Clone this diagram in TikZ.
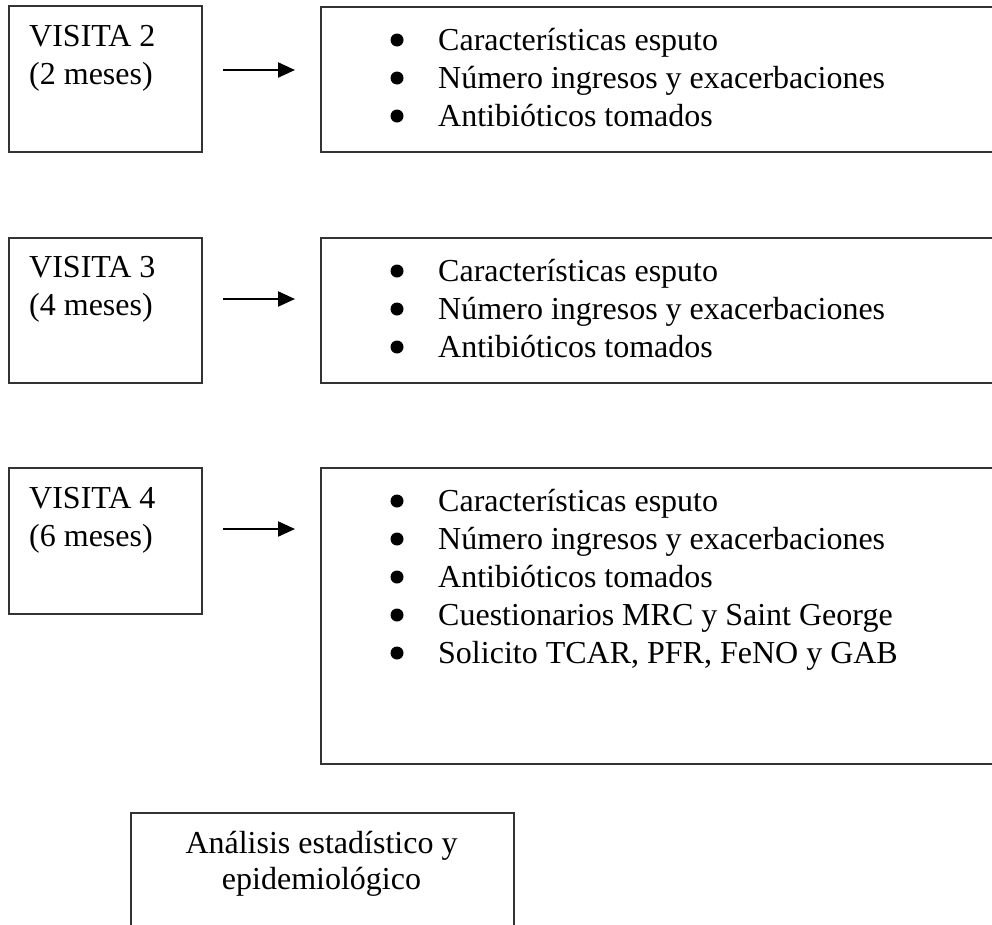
\documentclass[tikz,border=0pt]{standalone}
\usepackage{fontspec}
\setmainfont{Liberation Serif}
\usetikzlibrary{arrows.meta}
\begin{document}
\begin{tikzpicture}[x=1pt,y=-1pt,
  box/.style={draw=black!80, line width=1.5pt, anchor=north west, inner sep=0pt},
  lbl/.style={anchor=base west, inner sep=0pt, font=\fontsize{32}{38}\selectfont},
  ctr/.style={anchor=base, inner sep=0pt, font=\fontsize{32}{36}\selectfont},
  bullet/.style={fill=black},
  arr/.style={-{Triangle[length=17pt,width=15pt]}, line width=2.2pt}]
\clip (0,0) rectangle (992,924);
\fill[white] (0,0) rectangle (992,924);
% visit 2
\node[box, minimum width=193pt, minimum height=146pt] (v2) at (8,5) {};
\node[lbl] (v2t) at (29,46) {\begin{tabular}[t]{@{}l@{}}VISITA 2\\(2 meses)\end{tabular}};
\node[box, minimum width=690pt, minimum height=145pt] (r2) at (320,6) {};
\node[lbl] (r2t) at (438,50) {\begin{tabular}[t]{@{}l@{}}Características esputo\\Número ingresos y exacerbaciones\\Antibióticos tomados\end{tabular}};
\foreach \y in {40,78,116} \fill[bullet] (397,\y) circle (6.5pt);
\coordinate (a2s) at (223,70);
\coordinate (a2e) at (295,70);
\draw[arr] (a2s) -- (a2e);
% visit 3
\node[box, minimum width=193pt, minimum height=145pt] (v3) at (8,237) {};
\node[lbl] (v3t) at (29,277) {\begin{tabular}[t]{@{}l@{}}VISITA 3\\(4 meses)\end{tabular}};
\node[box, minimum width=690pt, minimum height=145pt] (r3) at (320,237) {};
\node[lbl] (r3t) at (438,281) {\begin{tabular}[t]{@{}l@{}}Características esputo\\Número ingresos y exacerbaciones\\Antibióticos tomados\end{tabular}};
\foreach \y in {271,309,347} \fill[bullet] (397,\y) circle (6.5pt);
\coordinate (a3s) at (223,299);
\coordinate (a3e) at (295,299);
\draw[arr] (a3s) -- (a3e);
% visit 4
\node[box, minimum width=193pt, minimum height=146pt] (v4) at (8,467) {};
\node[lbl] (v4t) at (29,508) {\begin{tabular}[t]{@{}l@{}}VISITA 4\\(6 meses)\end{tabular}};
\node[box, minimum width=690pt, minimum height=296pt] (r4) at (320,467) {};
\node[lbl] (r4t) at (438,511) {\begin{tabular}[t]{@{}l@{}}Características esputo\\Número ingresos y exacerbaciones\\Antibióticos tomados\\Cuestionarios MRC y Saint George\\Solicito TCAR, PFR, FeNO y GAB\end{tabular}};
\foreach \y in {501,539,577,615,653} \fill[bullet] (397,\y) circle (6.5pt);
\coordinate (a4s) at (223,529);
\coordinate (a4e) at (295,529);
\draw[arr] (a4s) -- (a4e);
% final
\node[box, minimum width=383pt, minimum height=160pt] (fin) at (130,812) {};
\node[ctr] (fint) at (321.5,853) {\begin{tabular}[t]{@{}c@{}}Análisis estadístico y\\epidemiológico\end{tabular}};
\end{tikzpicture}
\end{document}
